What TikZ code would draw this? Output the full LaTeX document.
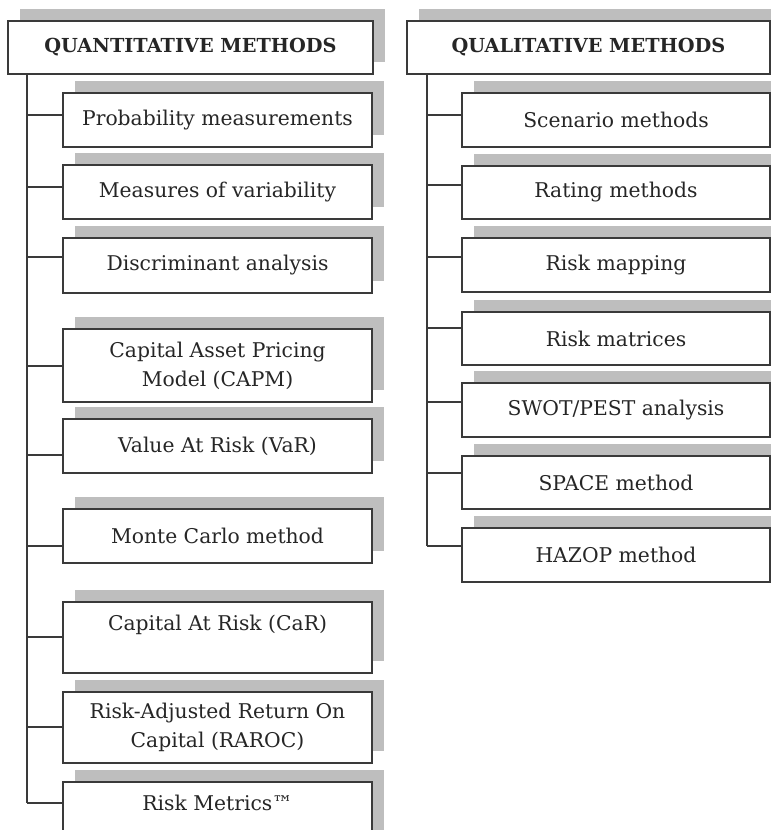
\documentclass[tikz,border=0pt]{standalone}
\usepackage{fontspec}
\setmainfont{DejaVu Serif}
\usetikzlibrary{shadows}
\definecolor{edge}{HTML}{3A3A3A}
\definecolor{shade}{HTML}{BEBEBE}
\definecolor{ink}{HTML}{262626}
\tikzset{
  box/.style={draw=edge, line width=1.4pt, fill=white, anchor=north west,
    inner sep=0pt, outer sep=0pt, align=center, text=ink,
    font=\fontsize{20.3}{29}\selectfont,
    general shadow={fill=shade, shadow xshift=12pt, shadow yshift=12.5pt}},
  subbox/.style={box, minimum width=309pt},
  rsubbox/.style={box, minimum width=308pt},
  head/.style={box, minimum height=53pt, font=\fontsize{19.3}{29}\selectfont\bfseries},
  link/.style={draw=edge, line width=1.4pt}
}
\begin{document}
\begin{tikzpicture}[x=1pt, y=-1pt]
\useasboundingbox (0,0) rectangle (771,830);
\clip (0,0) rectangle (771,830);
% left column
\node[head, minimum width=365pt] (qh) at (8,21) {QUANTITATIVE METHODS};
\node[subbox, minimum height=54pt] (q1) at (63,93) {Probability measurements};
\node[subbox, minimum height=54pt] (q2) at (63,165) {Measures of variability};
\node[subbox, minimum height=55pt] (q3) at (63,238) {Discriminant analysis};
\node[subbox, minimum height=73pt] (q4) at (63,329) {Capital Asset Pricing\\Model (CAPM)};
\node[subbox, minimum height=54pt] (q5) at (63,419) {Value At Risk (VaR)};
\node[subbox, minimum height=54pt] (q6) at (63,509) {Monte Carlo method};
\node[subbox, minimum height=71pt] (q7) at (63,602) {Capital At Risk (CaR)\\\mbox{}};
\node[subbox, minimum height=71pt] (q8) at (63,692) {Risk-Adjusted Return On\\Capital (RAROC)};
\node[subbox, minimum height=71pt] (q9) at (63,782) {Risk Metrics™\\\mbox{}};
% right column
\node[head, minimum width=363pt] (ph) at (407,21) {QUALITATIVE METHODS};
\node[rsubbox, minimum height=54pt] (r1) at (462,93) {Scenario methods};
\node[rsubbox, minimum height=53pt] (r2) at (462,166) {Rating methods};
\node[rsubbox, minimum height=54pt] (r3) at (462,238) {Risk mapping};
\node[rsubbox, minimum height=53pt] (r4) at (462,312) {Risk matrices};
\node[rsubbox, minimum height=54pt] (r5) at (462,383) {SWOT/PEST analysis};
\node[rsubbox, minimum height=53pt] (r6) at (462,456) {SPACE method};
\node[rsubbox, minimum height=54pt] (r7) at (462,528) {HAZOP method};
% stub points on the trunks
\coordinate (a1) at (27,115);
\coordinate (a2) at (27,187);
\coordinate (a3) at (27,257);
\coordinate (a4) at (27,366);
\coordinate (a5) at (27,455);
\coordinate (a6) at (27,546);
\coordinate (a7) at (27,637);
\coordinate (a8) at (27,727);
\coordinate (a9) at (27,803);
\coordinate (b1) at (427,115);
\coordinate (b2) at (427,185);
\coordinate (b3) at (427,257);
\coordinate (b4) at (427,328);
\coordinate (b5) at (427,402);
\coordinate (b6) at (427,473);
\coordinate (b7) at (427,546);
% trunks
\draw[link] (qh.south -| a1) -- (a9);
\draw[link] (ph.south -| b1) -- (b7);
% branches
\foreach \i in {1,...,9} {\draw[link] (a\i) -- (a\i -| q\i.west);}
\foreach \i in {1,...,7} {\draw[link] (b\i) -- (b\i -| r\i.west);}
\end{tikzpicture}
\end{document}
